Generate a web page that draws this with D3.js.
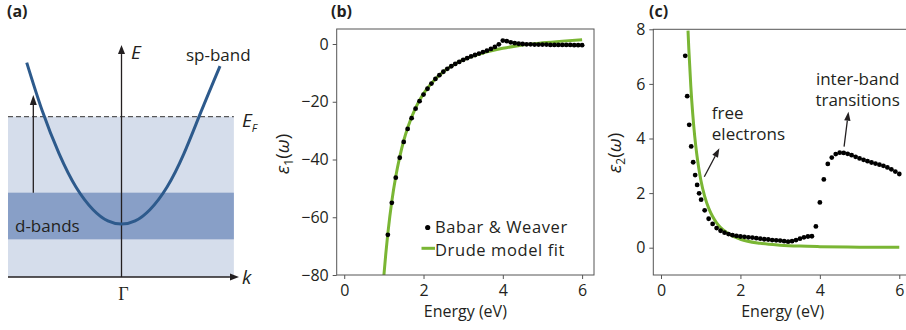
<!DOCTYPE html>
<html>
<head>
<meta charset="utf-8">
<script src="https://cdn.jsdelivr.net/npm/d3@7"></script>
<style>
  html, body { margin: 0; padding: 0; background: #fff; }
  svg { display: block; font-family: "Open Sans", "Noto Sans", sans-serif; }
</style>
</head>
<body>
<svg id="fig" width="906" height="330"></svg>
<script>
// ---------- measured permittivity of gold (Babar & Weaver) ----------
const eps1Energy = [1.1,1.2,1.3,1.4,1.5,1.6,1.7,1.8,1.9,2.0,2.1,2.2,2.3,2.4,2.5,2.6,2.7,2.8,2.9,3.0,
                    3.1,3.2,3.3,3.4,3.5,3.6,3.7,3.8,3.9,4.0,4.1,4.2,4.3,4.4,4.5,4.6,4.7,4.8,4.9,5.0,
                    5.1,5.2,5.3,5.4,5.5,5.6,5.7,5.8,5.9,6.0];
const eps1Values = [-66.1,-55.0,-46.3,-39.4,-33.9,-29.4,-25.7,-22.4,-19.8,-17.5,-15.5,-13.7,-12.1,-10.8,-9.6,-8.6,-7.7,-6.9,-6.2,-5.5,
                    -4.9,-4.3,-3.8,-3.3,-2.8,-2.3,-1.7,-1.0,-0.1,1.2,1.0,0.6,0.3,0.1,0.0,-0.1,-0.1,-0.2,-0.2,-0.2,
                    -0.2,-0.3,-0.3,-0.3,-0.3,-0.3,-0.3,-0.4,-0.4,-0.4];

const eps2Energy = [0.61,0.66,0.71,0.76,0.81,0.86,0.91,0.96,1.01,1.1,1.2,1.3,1.4,1.5,1.6,1.7,1.8,1.9,2.0,
                    2.1,2.2,2.3,2.4,2.5,2.6,2.7,2.8,2.9,3.0,3.1,3.2,3.3,3.4,3.5,3.6,3.7,3.8,3.9,4.0,
                    4.1,4.2,4.3,4.4,4.5,4.6,4.7,4.8,4.9,5.0,5.1,5.2,5.3,5.4,5.5,5.6,5.7,5.8,5.9,6.0];
const eps2Values = [7.03,5.55,4.5,3.71,3.13,2.66,2.3,1.99,1.76,1.37,1.06,0.87,0.72,0.62,0.55,0.5,0.46,0.43,0.41,
                    0.4,0.38,0.37,0.35,0.33,0.31,0.3,0.28,0.27,0.26,0.24,0.22,0.24,0.28,0.33,0.38,0.41,0.42,0.78,1.66,
                    2.5,3.07,3.3,3.43,3.48,3.47,3.44,3.39,3.33,3.27,3.22,3.17,3.12,3.08,3.04,3.0,2.94,2.87,2.79,2.7];

// ---------- Drude model fit ----------
const drude1Energy = [1.0,1.05,1.1,1.15,1.2,1.3,1.4,1.5,1.6,1.8,2.0,2.2,2.5,2.8,3.0,3.5,4.0,4.5,5.0,5.5,6.0];
const drude1Values = [-80.2,-72.4,-65.6,-59.7,-54.5,-45.9,-39.1,-33.5,-29.0,-22.1,-17.2,-13.6,-9.6,-6.9,-5.5,-3.1,-1.5,-0.35,0.4,1.0,1.5];
const drude2Energy = [0.68,0.7,0.75,0.8,0.85,0.9,0.95,1.0,1.1,1.2,1.3,1.4,1.5,1.7,2.0,2.5,3.0,3.5,4.0,5.0,6.0];
const drude2Values = [7.95,7.29,5.93,4.88,4.07,3.43,2.92,2.5,1.88,1.45,1.14,0.91,0.74,0.51,0.31,0.16,0.093,0.058,0.039,0.02,0.012];

// ---------- tick labels ----------
const energyTicks = [0, 2, 4, 6];
const eps1Ticks = [0, -20, -40, -60, -80];
const eps2Ticks = [0, 2, 4, 6, 8];

// ---------- band-structure schematic (k, E in arbitrary units) ----------
const spBandK = [-0.835,-0.7,-0.55,-0.4,-0.25,-0.12,0,0.12,0.25,0.4,0.55,0.7,0.868];
const spBandE = [1.337,1.04,0.77,0.56,0.42,0.35,0.33,0.35,0.42,0.56,0.77,1.03,1.316];
const fermiLevel = 1.0;
const dBandRange = [0.235, 0.526];
const bandWindowK = [-1, 0.99];
const transitionK = -0.777;
const transitionTop = 1.135;

const ink = "#231f20";
const spine = "#555";
const green = "#7ab634";
const svg = d3.select("#fig");

function arrow(g, x1, y1, x2, y2, len, half, width) {
  const ang = Math.atan2(y2 - y1, x2 - x1);
  const bx = x2 - len * Math.cos(ang), by = y2 - len * Math.sin(ang);
  g.append("line").attr("x1", x1).attr("y1", y1).attr("x2", bx).attr("y2", by)
    .attr("stroke", ink).attr("stroke-width", width);
  const px = -Math.sin(ang) * half, py = Math.cos(ang) * half;
  g.append("path")
    .attr("d", `M${x2},${y2}L${bx + px},${by + py}L${bx - px},${by - py}Z`)
    .attr("fill", ink);
}

function panelLabel(x, txt) {
  svg.append("text").attr("x", x).attr("y", 17)
    .attr("font-size", 16).attr("font-weight", 700).attr("fill", ink).text(txt);
}

// ================= (a) band diagram =================
{
  const g = svg.append("g");
  const k = d3.scaleLinear([-1, 1], [8, 235]);
  const E = d3.scaleLinear([0, 1], [277, 116.7]);

  g.append("rect")
    .attr("x", k(bandWindowK[0])).attr("width", k(bandWindowK[1]) - k(bandWindowK[0]))
    .attr("y", E(fermiLevel)).attr("height", E(0) - E(fermiLevel))
    .attr("fill", "#d5ddeb");
  g.append("rect")
    .attr("x", k(bandWindowK[0])).attr("width", k(bandWindowK[1]) - k(bandWindowK[0]))
    .attr("y", E(dBandRange[1])).attr("height", E(dBandRange[0]) - E(dBandRange[1]))
    .attr("fill", "#889fc7");

  g.append("line")
    .attr("x1", k(bandWindowK[0])).attr("x2", k(bandWindowK[1]))
    .attr("y1", E(fermiLevel)).attr("y2", E(fermiLevel))
    .attr("stroke", "#333").attr("stroke-width", 1).attr("stroke-dasharray", "5,3");

  // axes with arrow heads
  arrow(g, k(0), E(0), k(0), E(1.447), 9, 3.5, 1.3);
  arrow(g, k(-1), E(0), k(1.035), E(0), 9, 3.5, 1.3);

  // sp-band dispersion
  const pts = spBandK.map((v, i) => [v, spBandE[i]]);
  g.append("path")
    .attr("d", d3.line().x(d => k(d[0])).y(d => E(d[1])).curve(d3.curveNatural)(pts))
    .attr("fill", "none").attr("stroke", "#2d5a8c").attr("stroke-width", 3);

  // interband transition arrow
  arrow(g, k(transitionK), E(dBandRange[1]), k(transitionK), E(transitionTop), 10, 3.5, 1.3);

  g.append("text").attr("x", 131).attr("y", 59.3).attr("font-size", 19)
    .attr("font-style", "italic").attr("fill", ink).text("E");
  g.append("text").attr("x", 242).attr("y", 284).attr("font-size", 19)
    .attr("font-style", "italic").attr("fill", ink).text("k");
  const ef = g.append("text").attr("x", 242).attr("y", 127).attr("font-size", 19)
    .attr("font-style", "italic").attr("fill", ink);
  ef.append("tspan").text("E");
  ef.append("tspan").attr("font-size", 11).attr("dy", 5).text("F");
  g.append("text").attr("x", k(0) + 2).attr("y", 300).attr("text-anchor", "middle")
    .attr("font-size", 18).attr("font-family", "'Liberation Serif', 'DejaVu Serif', serif")
    .attr("fill", ink).text("Γ");
  g.append("text").attr("x", 186).attr("y", 61).attr("font-size", 17)
    .attr("fill", ink).text("sp-band");
  g.append("text").attr("x", 15).attr("y", 231.5).attr("font-size", 17)
    .attr("fill", ink).text("d-bands");
}
panelLabel(7, "(a)");

// ================= shared axis helpers =================
function drawFrame(g, box) {
  g.append("rect").attr("x", box.l).attr("y", box.t)
    .attr("width", box.r - box.l).attr("height", box.b - box.t)
    .attr("fill", "none").attr("stroke", spine).attr("stroke-width", 1);
}
function styleAxis(sel) {
  sel.select(".domain").remove();
  sel.selectAll(".tick line").attr("stroke", spine);
  sel.selectAll(".tick text").attr("fill", ink).attr("font-size", 16)
    .attr("font-family", "'Open Sans', sans-serif");
}
function yLabel(g, x, y, sub) {
  const t = g.append("text").attr("transform", `translate(${x},${y}) rotate(-90)`)
    .attr("text-anchor", "middle").attr("font-size", 19).attr("fill", ink);
  t.append("tspan").attr("font-style", "italic").text("ε");
  t.append("tspan").attr("font-size", 12).attr("dy", 4).text(sub);
  t.append("tspan").attr("dy", -4).text("(");
  t.append("tspan").attr("font-style", "italic").text("ω");
  t.append("tspan").text(")");
}
function xLabel(g, x) {
  g.append("text").attr("x", x).attr("y", 317).attr("text-anchor", "middle")
    .attr("font-size", 16).attr("fill", ink).text("Energy (eV)");
}
const intFmt = d3.format("d");

// ================= (b) real part =================
{
  const box = { l: 336.7, r: 594, t: 29, b: 275 };
  const g = svg.append("g");
  const x = d3.scaleLinear([-0.19, 6.3], [box.l, box.r]);
  const y = d3.scaleLinear([-80, 5.2], [box.b, box.t]);

  svg.append("clipPath").attr("id", "clipB").append("rect")
    .attr("x", box.l).attr("y", box.t).attr("width", box.r - box.l).attr("height", box.b - box.t);

  const plot = g.append("g").attr("clip-path", "url(#clipB)");
  plot.append("path")
    .attr("d", d3.line().x((d, i) => x(drude1Energy[i])).y(d => y(d)).curve(d3.curveMonotoneX)(drude1Values))
    .attr("fill", "none").attr("stroke", green).attr("stroke-width", 3);
  plot.selectAll("circle").data(eps1Values).join("circle")
    .attr("cx", (d, i) => x(eps1Energy[i])).attr("cy", d => y(d))
    .attr("r", 2.4).attr("fill", "#000");

  drawFrame(g, box);
  g.append("g").attr("transform", `translate(0,${box.b})`)
    .call(d3.axisBottom(x).tickValues(energyTicks).tickFormat(intFmt).tickSize(4).tickPadding(6)).call(styleAxis);
  g.append("g").attr("transform", `translate(${box.l},0)`)
    .call(d3.axisLeft(y).tickValues(eps1Ticks).tickFormat(intFmt).tickSize(4).tickPadding(4)).call(styleAxis);

  yLabel(g, 289, 154, "1");
  xLabel(g, (box.l + box.r) / 2);

  // legend
  g.append("circle").attr("cx", 427.7).attr("cy", 227.5).attr("r", 2.6).attr("fill", "#000");
  g.append("text").attr("x", 435).attr("y", 233).attr("font-size", 16.5)
    .attr("letter-spacing", 0.6).attr("fill", ink).text("Babar & Weaver");
  g.append("line").attr("x1", 421.5).attr("x2", 435).attr("y1", 248.3).attr("y2", 248.3)
    .attr("stroke", green).attr("stroke-width", 3);
  g.append("text").attr("x", 435).attr("y", 255.5).attr("font-size", 16.5)
    .attr("letter-spacing", 0.6).attr("fill", ink).text("Drude model fit");
}
panelLabel(331, "(b)");

// ================= (c) imaginary part =================
{
  const box = { l: 653.3, r: 911.2, t: 29.3, b: 275 };
  const g = svg.append("g");
  const x = d3.scaleLinear([-0.194, 6.3], [box.l, box.r]);
  const y = d3.scaleLinear([-1, 8], [box.b, box.t]);

  svg.append("clipPath").attr("id", "clipC").append("rect")
    .attr("x", box.l).attr("y", box.t).attr("width", box.r - box.l).attr("height", box.b - box.t);

  const plot = g.append("g").attr("clip-path", "url(#clipC)");
  plot.append("path")
    .attr("d", d3.line().x((d, i) => x(drude2Energy[i])).y(d => y(d)).curve(d3.curveMonotoneX)(drude2Values))
    .attr("fill", "none").attr("stroke", green).attr("stroke-width", 3);
  plot.selectAll("circle").data(eps2Values).join("circle")
    .attr("cx", (d, i) => x(eps2Energy[i])).attr("cy", d => y(d))
    .attr("r", 2.4).attr("fill", "#000");

  drawFrame(g, box);
  g.append("g").attr("transform", `translate(0,${box.b})`)
    .call(d3.axisBottom(x).tickValues(energyTicks).tickFormat(intFmt).tickSize(4).tickPadding(6)).call(styleAxis);
  g.append("g").attr("transform", `translate(${box.l},0)`)
    .call(d3.axisLeft(y).tickValues(eps2Ticks).tickFormat(intFmt).tickSize(4).tickPadding(4)).call(styleAxis);

  yLabel(g, 621, 153, "2");
  xLabel(g, 782.7);

  // annotations
  g.append("text").attr("x", x(1.28)).attr("y", y(4.7)).attr("font-size", 17).attr("fill", ink).text("free");
  g.append("text").attr("x", x(1.28)).attr("y", y(3.93)).attr("font-size", 17).attr("fill", ink).text("electrons");
  arrow(g, x(1.09), y(2.6), x(1.47), y(3.64), 9, 3.2, 1.3);
  g.append("text").attr("x", x(4.95)).attr("y", y(5.95)).attr("text-anchor", "middle")
    .attr("font-size", 17).attr("fill", ink).text("inter-band");
  g.append("text").attr("x", x(4.95)).attr("y", y(5.18)).attr("text-anchor", "middle")
    .attr("font-size", 17).attr("fill", ink).text("transitions");
  arrow(g, x(4.61), y(3.7), x(4.72), y(4.98), 9, 3.2, 1.3);
}
panelLabel(649, "(c)");
</script>
</body>
</html>
